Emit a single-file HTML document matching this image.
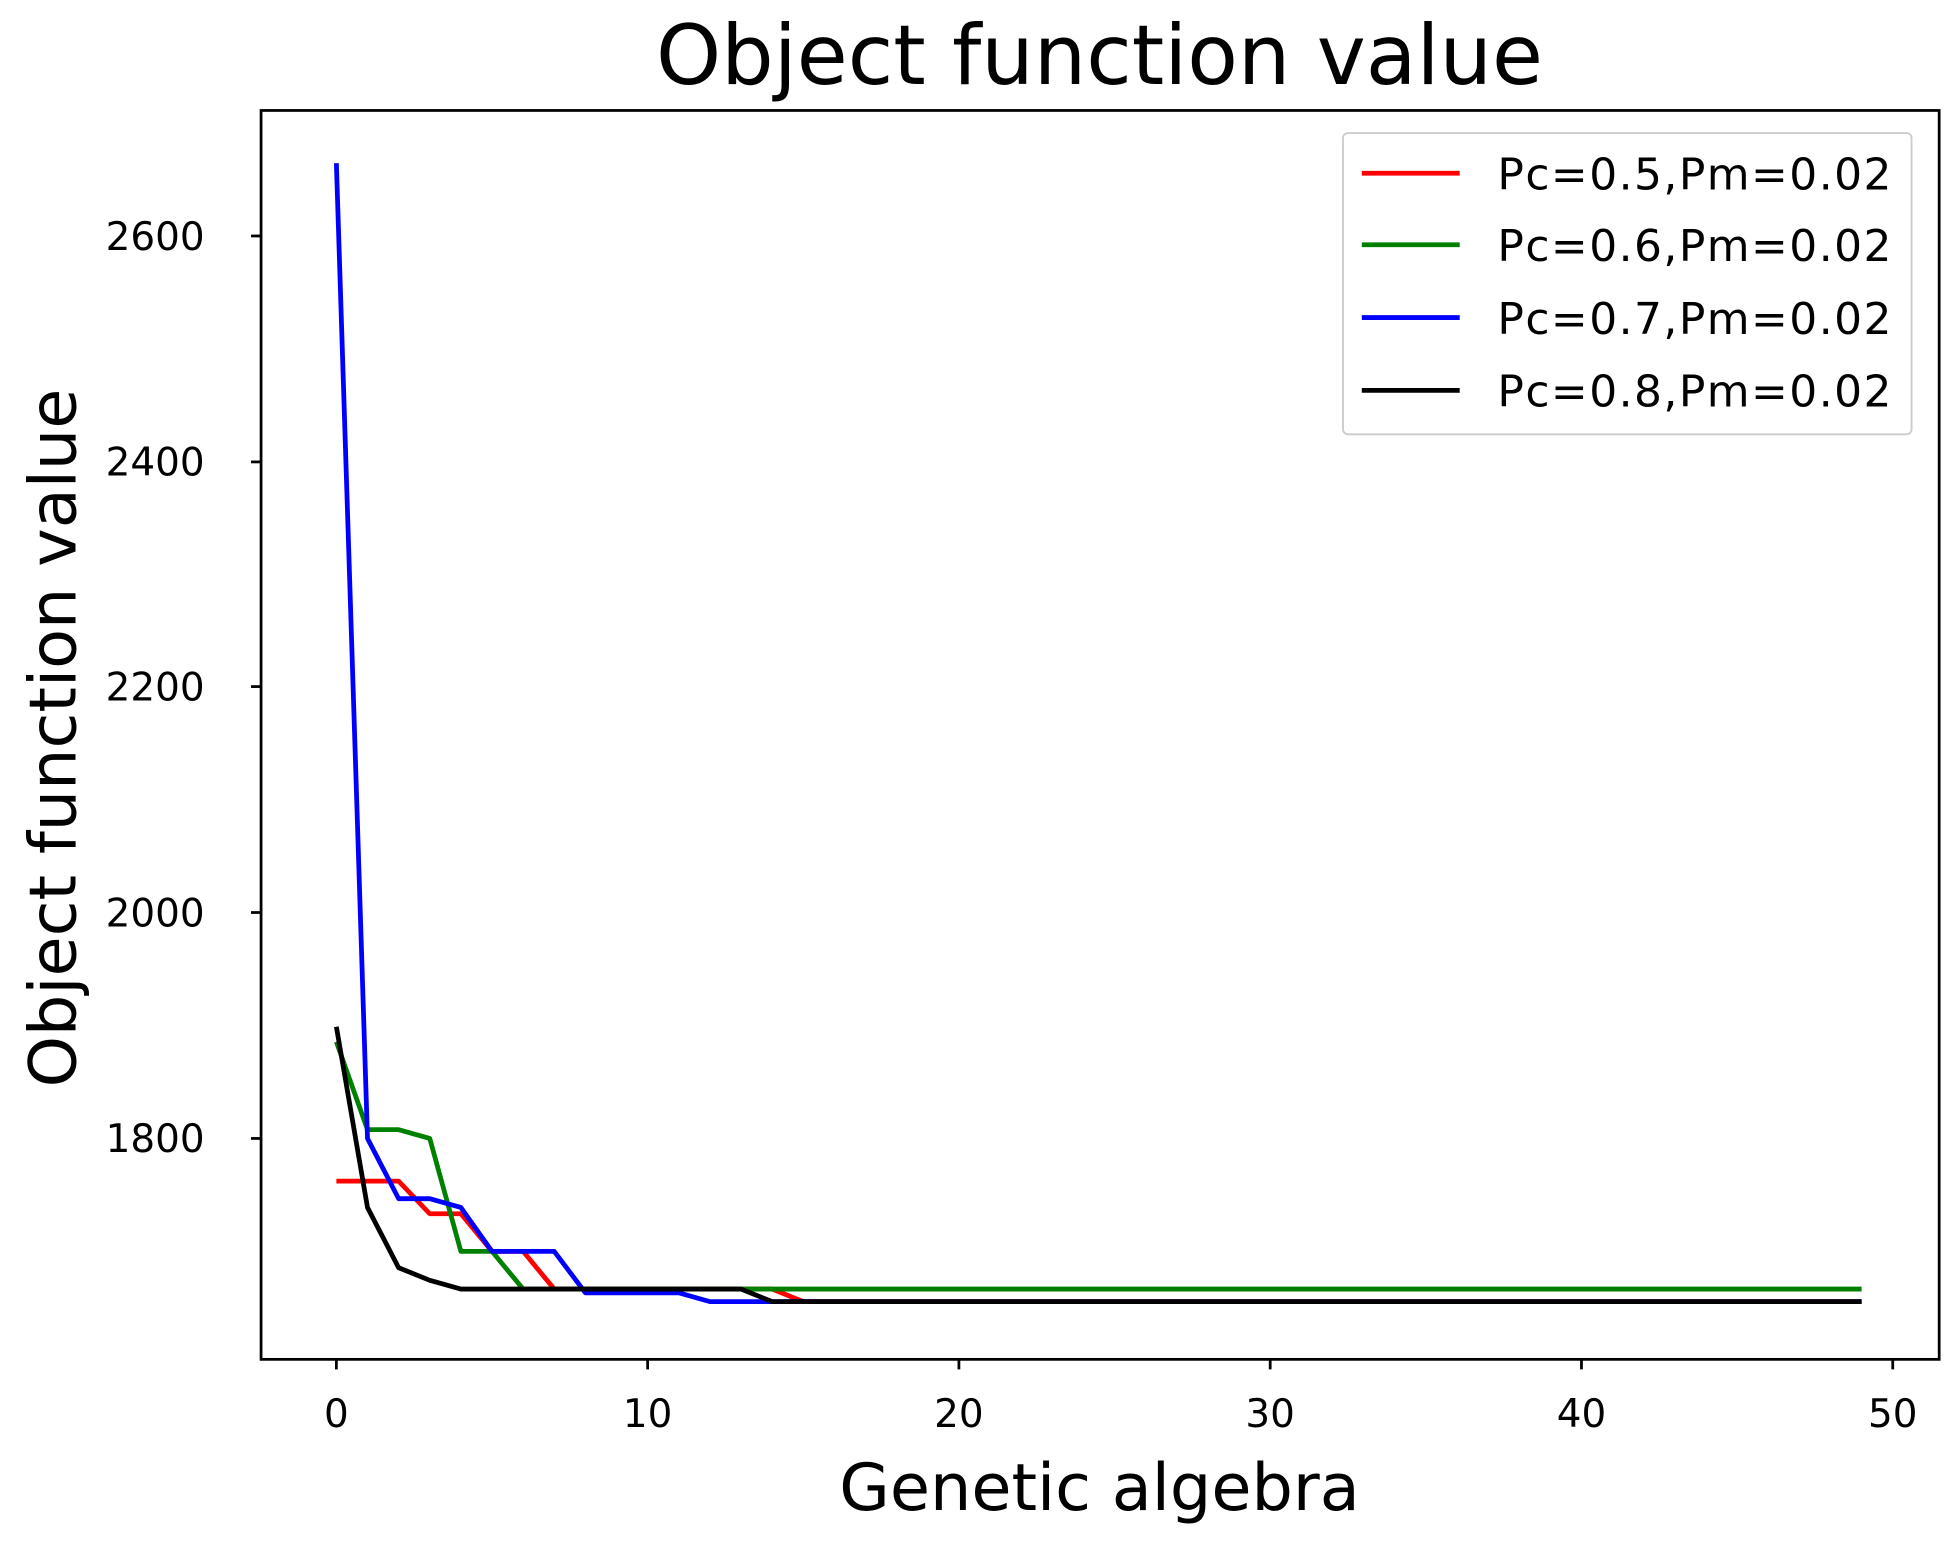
<!DOCTYPE html>
<html><head><style>html,body{margin:0;padding:0;background:#fff}svg{display:block}</style></head>
<body>
<svg width="1958" height="1546" viewBox="0 0 1560 1231.7" preserveAspectRatio="none" xmlns="http://www.w3.org/2000/svg" font-family="'DejaVu Sans','Liberation Sans',sans-serif">
<rect width="1560" height="1232" fill="#fff"/>
<text x="876" y="67" font-size="66" text-anchor="middle">Object function value</text>
<text transform="translate(60,588) rotate(-90)" font-size="52" text-anchor="middle">Object function value</text>
<text x="876" y="1203" font-size="52" text-anchor="middle">Genetic algebra</text>
<g stroke="#000" stroke-width="2.2">
<line x1="268" y1="1083" x2="268" y2="1091"/><line x1="516" y1="1083" x2="516" y2="1091"/>
<line x1="764" y1="1083" x2="764" y2="1091"/><line x1="1012" y1="1083" x2="1012" y2="1091"/>
<line x1="1260" y1="1083" x2="1260" y2="1091"/><line x1="1508" y1="1083" x2="1508" y2="1091"/>
<line x1="200" y1="188" x2="208" y2="188"/><line x1="200" y1="368" x2="208" y2="368"/>
<line x1="200" y1="547" x2="208" y2="547"/><line x1="200" y1="727" x2="208" y2="727"/>
<line x1="200" y1="907" x2="208" y2="907"/>
</g>
<g font-size="31" text-anchor="middle">
<text x="268" y="1137">0</text><text x="516" y="1137">10</text><text x="764" y="1137">20</text>
<text x="1012" y="1137">30</text><text x="1260" y="1137">40</text><text x="1508" y="1137">50</text>
</g>
<g font-size="31" text-anchor="end">
<text x="163" y="199">2600</text><text x="163" y="379">2400</text><text x="163" y="558">2200</text>
<text x="163" y="738">2000</text><text x="163" y="918">1800</text>
</g>
<g fill="none" stroke-width="3.8" stroke-linejoin="round">
<polyline stroke="#ff0000" points="268,941 292.8,941 317.6,941 342.4,967 367.2,967 392,997 416.8,997 441.6,1027 615.2,1027 640,1037 1483.2,1037"/>
<polyline stroke="#008000" points="268,830 292.8,900 317.6,900 342.4,907 367.2,997 392,997 416.8,1027 1483.2,1027"/>
<polyline stroke="#0000ff" points="268,130 292.8,907 317.6,955 342.4,955 367.2,962 392,997 416.8,997 441.6,997 466.4,1030 540.8,1030 565.6,1037 1483.2,1037"/>
<polyline stroke="#000000" points="268,818 292.8,962 317.6,1010 342.4,1020 367.2,1027 590.4,1027 615.2,1037 1483.2,1037"/>
</g>
<rect x="208" y="88" width="1337" height="995" fill="none" stroke="#000" stroke-width="2.2"/>
<rect x="1070" y="106" width="453" height="240" rx="4" fill="#fff" fill-opacity="0.8" stroke="#ccc" stroke-width="1.5"/>
<g stroke-width="3.8">
<line x1="1085" y1="138" x2="1163" y2="138" stroke="#ff0000"/>
<line x1="1085" y1="195" x2="1163" y2="195" stroke="#008000"/>
<line x1="1085" y1="253" x2="1163" y2="253" stroke="#0000ff"/>
<line x1="1085" y1="311" x2="1163" y2="311" stroke="#000"/>
</g>
<g font-size="35">
<text x="1193" y="151" textLength="314">Pc=0.5,Pm=0.02</text>
<text x="1193" y="208" textLength="314">Pc=0.6,Pm=0.02</text>
<text x="1193" y="266" textLength="314">Pc=0.7,Pm=0.02</text>
<text x="1193" y="324" textLength="314">Pc=0.8,Pm=0.02</text>
</g>
</svg>
</body></html>
